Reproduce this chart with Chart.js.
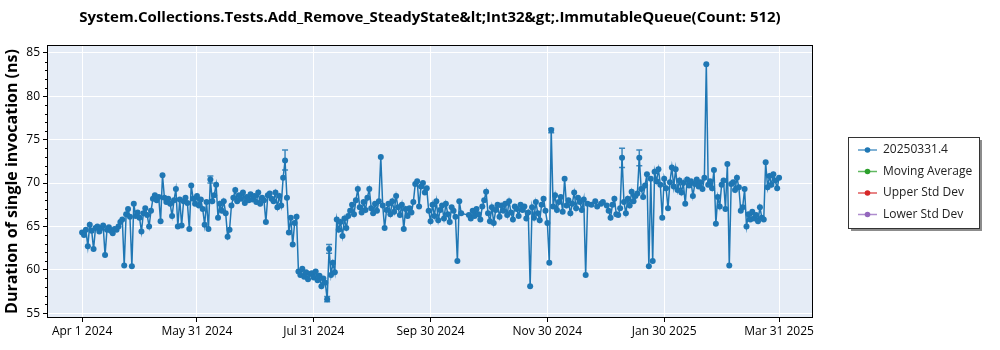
<!DOCTYPE html>
<html>
<head>
<meta charset="utf-8">
<script src="https://cdn.jsdelivr.net/npm/chart.js@4.4.1/dist/chart.umd.min.js"></script>
<style>
  html, body { margin: 0; padding: 0; background: #fff; }
</style>
</head>
<body>
<canvas id="myChart" width="1000" height="350"></canvas>
<script>
const TITLE = "System.Collections.Tests.Add_Remove_SteadyState&lt;Int32&gt;.ImmutableQueue(Count: 512)";
const Y_TITLE = "Duration of single invocation (ns)";
const FONT = '"Open Sans", "Noto Sans", sans-serif';

// x = days since Apr 1 2024
const tickDays = [0, 60, 121, 182, 243, 304, 364];
const tickLabels = ["Apr 1 2024", "May 31 2024", "Jul 31 2024", "Sep 30 2024", "Nov 30 2024", "Jan 30 2025", "Mar 31 2025"];
const yTicks = [55, 60, 65, 70, 75, 80, 85];

// one run per day (ns), null = no run that day
const durations = [
  64.3, 64.0, 64.6, 62.7, 65.2, 64.5, 62.4, 64.8, 65.0, 64.4,
  64.8, 65.1, 61.7, 64.6, 64.9, 64.5, 64.2, 64.7, 64.6, 65.0,
  65.5, 65.8, 60.5, 66.4, 67.0, 66.1, 60.4, 67.6, 66.2, 66.6,
  66.0, 64.4, 66.5, 67.1, 66.3, 65.0, 66.8, 68.2, 68.6, 68.0,
  68.4, 65.6, 70.9, 68.3, 67.8, 68.2, 67.6, 66.2, 68.0, 69.3,
  65.0, 68.1, 65.1, 67.9, 68.3, 67.7, 64.7, 69.7, 68.2, 67.6,
  68.5, 67.4, 68.1, 67.0, 65.2, 67.8, 64.7, 70.4, 67.9, 68.6,
  69.8, 66.0, 67.6, 66.8, 67.9, 66.5, 63.8, 64.6, 67.4, 68.3,
  69.2, 67.9, 68.6, 68.2, 68.9, 67.7, 68.4, 68.0, 68.7, 68.1,
  68.5, 67.8, 68.9, 67.6, 68.3, 68.0, 65.5, 68.6, 68.8, 68.2,
  67.9, 68.9, 67.2, 68.5, 67.4, 70.6, 72.6, 68.3, 64.3, 66.0,
  62.9, 65.4, 66.1, 59.8, 59.4, 60.1, 59.2, 59.7, 58.9, 59.5,
  59.6, 59.1, 59.8, 58.8, 59.3, 58.1, 59.0, 58.5, 56.6, 62.4,
  59.4, 60.8, 59.7, 65.8, 64.6, 65.5, 63.9, 65.9, 64.8, 66.2,
  66.8, 67.5, 66.4, 68.0, 69.3, 67.2, 66.6, 67.8, 66.9, 68.3,
  69.3, 67.1, 66.5, 67.6, 66.8, 67.9, 73.0, 67.4, 64.8, 66.9,
  67.6, 66.4, 67.9, 66.7, 68.5, 67.2, 66.3, 67.5, 64.7, 67.0,
  66.2, 67.1, 66.6, 67.8, 69.9, 70.2, 67.3, 69.6, 70.0, 68.9,
  69.4, 66.8, 65.6, 67.5, 66.2, 67.9, 65.7, 66.9, 67.4, 65.9,
  67.6, 66.4, 65.5, 67.2, 66.8, 66.1, 61.0, 67.9, 66.5, null,
  null, null, 66.3, 65.9, 66.8, 66.2, 67.0, 66.4, 65.8, 67.3,
  68.0, 69.0, 66.5, 65.6, 67.2, 65.4, 66.9, 67.5, 66.1, 67.4,
  66.8, 67.6, 66.3, 67.9, 66.6, 65.8, 67.3, 67.0, 66.2, 67.5,
  66.9, 67.3, 65.9, 66.6, 58.1, 67.2, 66.0, 67.8, 66.5, 65.7,
  67.5, 68.2, 66.8, 65.4, 60.8, 76.1, 67.3, 68.6, 66.9, 67.8,
  68.4, 66.7, 70.5, 67.4, 68.0, 66.5, 67.6, 68.9, 67.1, 68.3,
  67.8, 66.9, 68.1, 59.4, 67.6, null, 67.5, null, 67.9, 67.3,
  null, 67.6, 67.8, null, 67.4, 66.8, 66.0, 67.5, 68.2, 66.4,
  66.3, 67.1, 72.9, 67.8, 66.5, 68.2, 67.4, 69.0, 67.9, 68.5,
  68.8, 72.9, 69.3, 68.4, 69.7, 71.0, 60.4, 70.5, 61.0, 71.3,
  70.2, 71.6, 69.8, 66.0, 70.5, 69.4, 67.1, 70.1, 71.8, 69.6,
  71.6, 69.2, 70.3, 68.9, 70.0, 67.6, 70.4, 69.7, 70.2, 68.5,
  69.9, 70.4, 69.6, 70.1, 69.3, 70.6, 83.7, 69.8, 70.2, 69.4,
  71.5, 65.3, 68.4, 67.3, 69.8, 70.3, 67.0, 72.2, 60.5, 69.9,
  70.1, 69.2, 70.6, 69.5, 66.8, 67.2, 69.3, 65.0, 66.4, 65.8,
  66.7, 65.9, 66.3, 65.6, 67.2, 66.0, 65.8, 72.4, 69.5, 70.8,
  69.8, 71.0, 70.3, 69.4, 70.6
];

// runs with a visible spread
const errDays = [67, 106, 128, 129, 245, 282, 291];
const errLow = [70.0, 71.5, 56.3, 61.9, 75.8, 71.8, 72.0];
const errHigh = [70.8, 73.8, 56.9, 62.9, 76.3, 74.0, 73.8];

const seriesNames = ["20250331.4", "Moving Average", "Upper Std Dev", "Lower Std Dev"];
const seriesColors = ["#1f77b4", "#2ca02c", "#d62728", "#9467bd"];

const points = durations
  .map((v, i) => ({ x: i, y: v }))
  .filter((p) => p.y !== null);

// plot background, frame, minor ticks, error bars, title, legend
const decor = {
  id: "decor",
  beforeDraw(chart) {
    const { ctx, chartArea: a } = chart;
    ctx.save();
    ctx.fillStyle = "#e5ecf6";
    ctx.fillRect(a.left, a.top, a.right - a.left, a.bottom - a.top);
    ctx.restore();
  },
  afterDatasetsDraw(chart) {
    const { ctx, scales } = chart;
    ctx.save();
    ctx.strokeStyle = "rgba(31,119,180,0.85)";
    ctx.lineWidth = 1.5;
    errDays.forEach((d, i) => {
      const x = scales.x.getPixelForValue(d);
      const y1 = scales.y.getPixelForValue(errLow[i]);
      const y2 = scales.y.getPixelForValue(errHigh[i]);
      ctx.beginPath();
      ctx.moveTo(x, y1); ctx.lineTo(x, y2);
      ctx.moveTo(x - 3, y1); ctx.lineTo(x + 3, y1);
      ctx.moveTo(x - 3, y2); ctx.lineTo(x + 3, y2);
      ctx.stroke();
    });
    ctx.restore();
  },
  afterDraw(chart) {
    const { ctx, chartArea: a, scales } = chart;
    ctx.save();
    // frame
    ctx.strokeStyle = "#000";
    ctx.lineWidth = 1;
    ctx.strokeRect(a.left - 0.5, a.top - 0.5, a.right - a.left + 1, a.bottom - a.top + 1);
    // minor y ticks
    ctx.beginPath();
    for (let v = 55; v <= 85; v++) {
      if (v % 5 === 0) continue;
      const y = Math.round(scales.y.getPixelForValue(v)) + 0.5;
      ctx.moveTo(a.left - 3, y);
      ctx.lineTo(a.left, y);
    }
    ctx.stroke();
    // title
    ctx.fillStyle = "#000";
    ctx.font = "bold 15px " + FONT;
    ctx.textAlign = "center";
    ctx.textBaseline = "middle";
    ctx.fillText(TITLE, (a.left + a.right) / 2, 18);
    // legend
    const bx = 848, by = 137, bw = 131, bh = 91;
    ctx.fillStyle = "rgba(0,0,0,0.45)";
    ctx.fillRect(bx + 3, by + 3, bw, bh);
    ctx.fillStyle = "#fff";
    ctx.fillRect(bx, by, bw, bh);
    ctx.strokeStyle = "#333";
    ctx.strokeRect(bx + 0.5, by + 0.5, bw, bh);
    ctx.font = "12px " + FONT;
    ctx.textAlign = "left";
    chart.data.datasets.forEach((ds, i) => {
      const y = 150 + i * 21.5;
      ctx.strokeStyle = ds.borderColor;
      ctx.globalAlpha = 0.75;
      ctx.lineWidth = 1.5;
      ctx.beginPath();
      ctx.moveTo(858, y); ctx.lineTo(877, y);
      ctx.stroke();
      ctx.globalAlpha = 1;
      ctx.fillStyle = ds.borderColor;
      ctx.beginPath();
      ctx.arc(867.5, y, 2.8, 0, Math.PI * 2);
      ctx.fill();
      ctx.fillStyle = "#222";
      ctx.fillText(ds.label, 883, y);
    });
    ctx.restore();
  }
};

const datasets = seriesNames.map((name, i) => ({
  label: name,
  data: i === 0 ? points : [],
  borderColor: seriesColors[i],
  backgroundColor: seriesColors[i],
  borderWidth: 1.5,
  pointRadius: 3,
  pointHoverRadius: 3,
  pointBorderWidth: 0,
  tension: 0
}));

new Chart(document.getElementById("myChart"), {
  type: "line",
  data: { datasets },
  options: {
    responsive: false,
    animation: false,
    layout: { padding: { top: 46, right: 188, left: 0, bottom: 0 } },
    plugins: {
      legend: { display: false },
      title: { display: false },
      tooltip: { enabled: false }
    },
    scales: {
      x: {
        type: "linear",
        min: -17.8,
        max: 381.2,
        afterBuildTicks: (s) => { s.ticks = tickDays.map((v) => ({ value: v })); },
        afterFit: (s) => { s.height = 33; },
        ticks: {
          autoSkip: false,
          maxRotation: 0,
          color: "#000",
          padding: 2,
          font: { family: FONT, size: 12 },
          callback: (v) => tickLabels[tickDays.indexOf(v)]
        },
        grid: { color: "#fff", lineWidth: 1, tickColor: "#000", tickLength: 5 },
        border: { display: false }
      },
      y: {
        min: 54.55,
        max: 85.8,
        afterBuildTicks: (s) => { s.ticks = yTicks.map((v) => ({ value: v })); },
        afterFit: (s) => { s.width = 48; },
        ticks: {
          color: "#000",
          padding: 3,
          font: { family: FONT, size: 12 }
        },
        grid: { color: "#fff", lineWidth: 1, tickColor: "#000", tickLength: 5 },
        border: { display: false },
        title: {
          display: true,
          text: Y_TITLE,
          color: "#000",
          font: { family: FONT, size: 16, weight: "bold" },
          padding: { top: 3, bottom: 0 }
        }
      }
    }
  },
  plugins: [decor]
});
</script>
</body>
</html>
